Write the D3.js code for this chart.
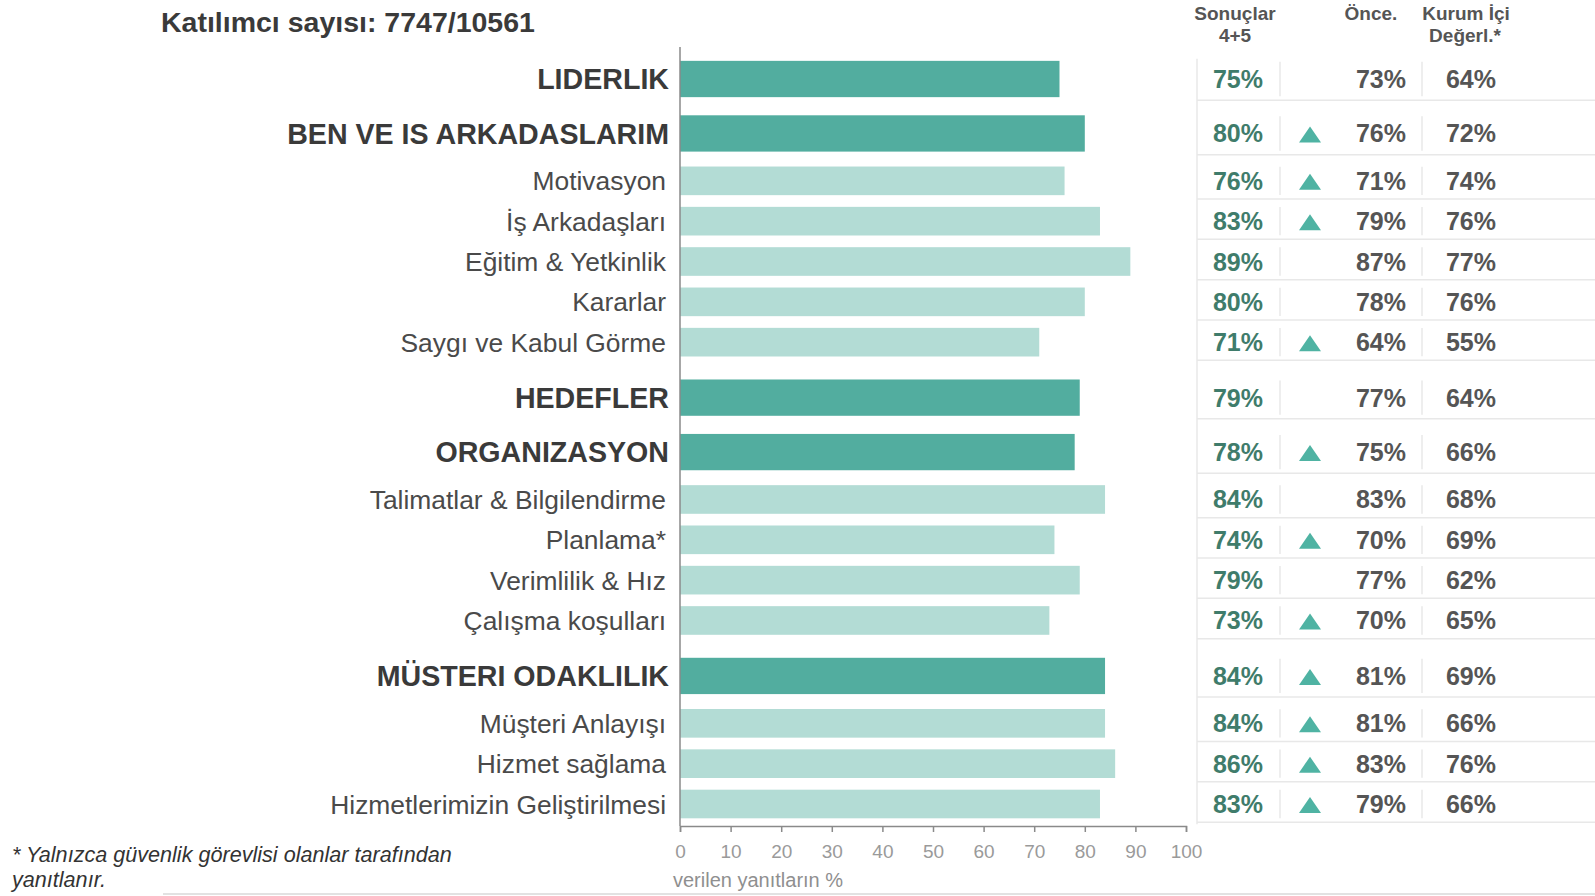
<!DOCTYPE html>
<html>
<head>
<meta charset="utf-8">
<script src="https://cdn.jsdelivr.net/npm/d3@7"></script>
<style>
  body { margin: 0; background: #fff; }
  svg { display: block; font-family: "Liberation Sans", Arial, sans-serif; }
  .axis path, .axis line { stroke: #8a8a8a; }
  .axis text { fill: #9a9a9a; font-size: 19px; font-family: "Liberation Sans", Arial, sans-serif; }
</style>
</head>
<body>
<div id="chart"></div>
<script>
// chart values
var categories = ["LIDERLIK", "BEN VE IS ARKADASLARIM", "Motivasyon", "İş Arkadaşları",
  "Eğitim & Yetkinlik", "Kararlar", "Saygı ve Kabul Görme", "HEDEFLER", "ORGANIZASYON",
  "Talimatlar & Bilgilendirme", "Planlama*", "Verimlilik & Hız", "Çalışma koşulları",
  "MÜSTERI ODAKLILIK", "Müşteri Anlayışı", "Hizmet sağlama", "Hizmetlerimizin Geliştirilmesi"];
var levels = ["main", "main", "sub", "sub", "sub", "sub", "sub", "main", "main",
  "sub", "sub", "sub", "sub", "main", "sub", "sub", "sub"];
var results = [75, 80, 76, 83, 89, 80, 71, 79, 78, 84, 74, 79, 73, 84, 84, 86, 83];
var previous = [73, 76, 71, 79, 87, 78, 64, 77, 75, 83, 70, 77, 70, 81, 81, 83, 79];
var internal = [64, 72, 74, 76, 77, 76, 55, 64, 66, 68, 69, 62, 65, 69, 66, 76, 66];
var improved = [false, true, true, true, false, false, true, false, true,
  false, true, false, true, true, true, true, true];
var xTicks = [0, 10, 20, 30, 40, 50, 60, 70, 80, 90, 100];

var width = 1595, height = 896;
var darkTeal = "#52ad9f", lightTeal = "#b3dcd5", valueGreen = "#3f7c6b", greyText = "#555";

var svg = d3.select("#chart").append("svg")
    .attr("width", width)
    .attr("height", height);

// main rows take more room, with a little extra space when a new group starts after sub rows
var weight = function(l){ return l == "main" ? 1.35 : 1; };
var slot = [0];
for (var i = 1; i < levels.length; i++) {
  var extra = (levels[i] == "main" && levels[i - 1] == "sub") ? 0.2 : 0;
  slot.push(slot[i - 1] + (weight(levels[i - 1]) + weight(levels[i])) / 2 + extra);
}

var x = d3.scaleLinear()
    .domain([0, 100])
    .range([680, 1186]);

var y = d3.scaleLinear()
    .domain([0, slot[slot.length - 1]])
    .range([79, 804]);

var unit = y(1) - y(0);

var rows = categories.map(function(c, i){
  return {name: c, level: levels[i], value: results[i], prev: previous[i],
          internal: internal[i], up: improved[i], pos: y(slot[i])};
});

// title
svg.append("text")
    .attr("x", 161)
    .attr("y", 32)
    .attr("fill", "#3a3a3a")
    .attr("font-size", 28.5)
    .attr("font-weight", "bold")
    .text("Katılımcı sayısı: 7747/10561");

// table lines (faint)
var tbl = svg.append("g").attr("stroke", "#e8e8e8").attr("stroke-width", 1.5);
rows.forEach(function(d, i){
  var h = d.level == "main" ? unit * 1.05 : unit * 0.9;
  tbl.append("line")
      .attr("x1", 1197).attr("x2", width)
      .attr("y1", d.pos + h / 2).attr("y2", d.pos + h / 2);
  [1280, 1422].forEach(function(vx){
    tbl.append("line")
        .attr("x1", vx).attr("x2", vx)
        .attr("y1", d.pos - h / 2 + 4).attr("y2", d.pos + h / 2 - 4);
  });
});
tbl.append("line")
    .attr("x1", 1197).attr("x2", 1197)
    .attr("y1", y(0) - unit / 2).attr("y2", y(slot[slot.length - 1]) + unit / 2);

// bars
svg.selectAll(".bar")
    .data(rows)
  .enter().append("rect")
    .attr("class", "bar")
    .attr("x", x(0))
    .attr("y", function(d){ return d.pos - (d.level == "main" ? unit * 0.45 : unit * 0.355); })
    .attr("width", function(d){ return x(d.value) - x(0); })
    .attr("height", function(d){ return d.level == "main" ? unit * 0.9 : unit * 0.71; })
    .attr("fill", function(d){ return d.level == "main" ? darkTeal : lightTeal; });

// category labels
svg.selectAll(".label")
    .data(rows)
  .enter().append("text")
    .attr("class", "label")
    .attr("x", function(d){ return d.level == "main" ? 669 : 666; })
    .attr("y", function(d){ return d.pos; })
    .attr("dy", "0.36em")
    .attr("text-anchor", "end")
    .attr("fill", function(d){ return d.level == "main" ? "#3a3a3a" : "#4a4a4a"; })
    .attr("font-size", function(d){ return d.level == "main" ? 28.6 : 26.4; })
    .attr("font-weight", function(d){ return d.level == "main" ? "bold" : "normal"; })
    .text(function(d){ return d.name; });

// y axis line
svg.append("line")
    .attr("x1", x(0)).attr("x2", x(0))
    .attr("y1", 47).attr("y2", 826)
    .attr("stroke", "#8a8a8a")
    .attr("stroke-width", 1.5);

// x axis
var xAxis = d3.axisBottom()
    .scale(x)
    .tickValues(xTicks)
    .tickSizeOuter(0)
    .tickSize(6)
    .tickPadding(13);

svg.append("g")
    .attr("class", "axis")
    .attr("transform", "translate(0,826)")
    .call(xAxis)
    .selectAll("path, line").attr("stroke-width", 1.5);

svg.append("text")
    .attr("x", 673)
    .attr("y", 887)
    .attr("fill", "#8f8f8f")
    .attr("font-size", 20)
    .text("verilen yanıtların %");

// table headers
var head = svg.append("g")
    .attr("fill", greyText)
    .attr("font-size", 19)
    .attr("font-weight", "bold")
    .attr("text-anchor", "middle");
head.append("text").attr("x", 1235).attr("y", 20).text("Sonuçlar");
head.append("text").attr("x", 1235).attr("y", 42).text("4+5");
head.append("text").attr("x", 1371).attr("y", 20).text("Önce.");
head.append("text").attr("x", 1466).attr("y", 20).text("Kurum İçi");
head.append("text").attr("x", 1465).attr("y", 42).text("Değerl.*");

// table values
var cells = svg.append("g")
    .attr("font-size", 25)
    .attr("font-weight", "bold")
    .attr("text-anchor", "middle");

cells.selectAll(".res")
    .data(rows)
  .enter().append("text")
    .attr("x", 1238)
    .attr("y", function(d){ return d.pos; })
    .attr("dy", "0.36em")
    .attr("fill", valueGreen)
    .text(function(d){ return d.value + "%"; });

cells.selectAll(".prev")
    .data(rows)
  .enter().append("text")
    .attr("x", 1381)
    .attr("y", function(d){ return d.pos; })
    .attr("dy", "0.36em")
    .attr("fill", greyText)
    .text(function(d){ return d.prev + "%"; });

cells.selectAll(".int")
    .data(rows)
  .enter().append("text")
    .attr("x", 1471)
    .attr("y", function(d){ return d.pos; })
    .attr("dy", "0.36em")
    .attr("fill", greyText)
    .text(function(d){ return d.internal + "%"; });

// improvement arrows
svg.selectAll(".tri")
    .data(rows.filter(function(d){ return d.up; }))
  .enter().append("path")
    .attr("class", "tri")
    .attr("transform", function(d){ return "translate(1310," + (d.pos + 1) + ")"; })
    .attr("d", "M -11 8 L 0 -8 L 11 8 Z")
    .attr("fill", "#4fb3a3");

// footnote
var foot = svg.append("text")
    .attr("fill", "#333")
    .attr("font-size", 21.6)
    .attr("font-style", "italic");
foot.append("tspan").attr("x", 12).attr("y", 862).text("* Yalnızca güvenlik görevlisi olanlar tarafından");
foot.append("tspan").attr("x", 12).attr("y", 887).text("yanıtlanır.");

svg.append("line")
    .attr("x1", 163).attr("x2", width)
    .attr("y1", 894).attr("y2", 894)
    .attr("stroke", "#e2e2e2")
    .attr("stroke-width", 2);
</script>
</body>
</html>
